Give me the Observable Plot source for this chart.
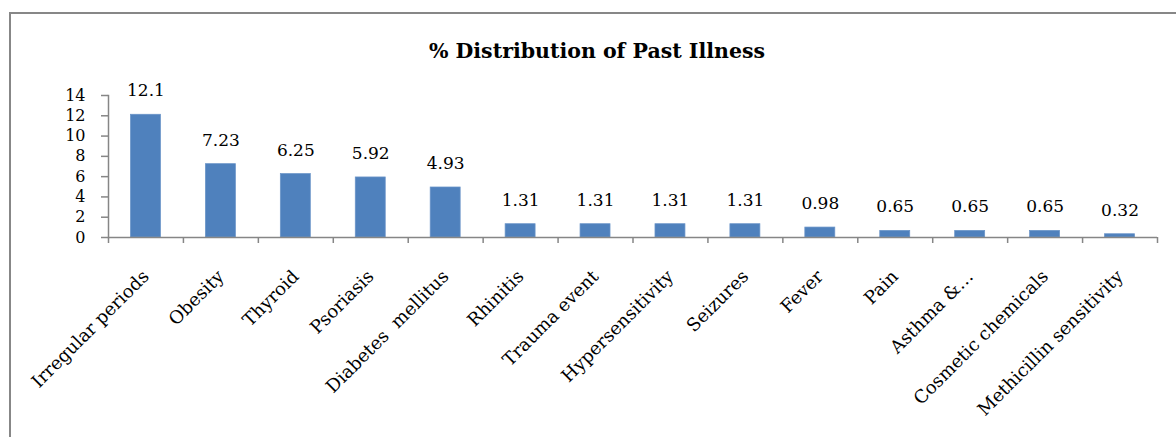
<!DOCTYPE html>
<html>
<head>
<meta charset="utf-8">
<script src="https://cdn.jsdelivr.net/npm/d3@7"></script>
<script src="https://cdn.jsdelivr.net/npm/@observablehq/plot@0.6"></script>
<style>
  body { margin: 0; background: #fff; }
  #chart { position: relative; width: 1176px; height: 437px; overflow: hidden; font-family: "DejaVu Serif", serif; }
  #frame { position: absolute; left: 9px; top: 12px; width: 1220px; height: 520px; border: 2px solid #878787; box-sizing: border-box; }
  #title { position: absolute; left: 0; width: 1194px; top: 39px; text-align: center; font-weight: bold; font-size: 20.5px; color: #000; }
  #chart svg { position: absolute; left: 0; top: 0; }
</style>
</head>
<body>
<div id="chart">
  <div id="frame"></div>
  <div id="title">% Distribution of Past Illness</div>
</div>
<script>
// Past illness categories and their share (%)
const illnesses = [
  "Irregular periods", "Obesity", "Thyroid", "Psoriasis", "Diabetes  mellitus",
  "Rhinitis", "Trauma event", "Hypersensitivity", "Seizures", "Fever",
  "Pain", "Asthma &…", "Cosmetic chemicals", "Methicillin sensitivity"
];
const percents = [12.1, 7.23, 6.25, 5.92, 4.93, 1.31, 1.31, 1.31, 1.31, 0.98, 0.65, 0.65, 0.65, 0.32];
const yTicks = [0, 2, 4, 6, 8, 10, 12, 14];

const rows = illnesses.map((name, i) => ({name, pct: percents[i]}));

const W = 1176, H = 437;
const mL = 108, mR = 19, mT = 95, mB = 200;
const step = (W - mL - mR) / illnesses.length; // width of one category band
const axisGray = "#868686";

const chart = Plot.plot({
  width: W,
  height: H,
  marginLeft: mL,
  marginRight: mR,
  marginTop: mT,
  marginBottom: mB,
  style: {fontFamily: "'DejaVu Serif', serif", fontSize: "16px", color: "#000", background: "transparent", overflow: "visible"},
  x: {domain: illnesses, paddingInner: 0.6, paddingOuter: 0.3, round: false, label: null},
  y: {domain: [0, 14], label: null},
  marks: [
    Plot.barY(rows, {x: "name", y: "pct", fill: "#4F81BD", stroke: "#6A94C8", strokeWidth: 0.75}),
    Plot.text(rows, {x: "name", y: "pct", text: d => String(d.pct), dy: -24, fontSize: 17, fill: "#000"}),
    // axis lines
    Plot.frame({anchor: "left", stroke: axisGray, strokeWidth: 1.5}),
    Plot.ruleY([0], {stroke: axisGray, strokeWidth: 1.5}),
    // y ticks and labels
    Plot.axisY({ticks: yTicks, tickSize: 7, tickPadding: 16, stroke: axisGray, strokeWidth: 1.5, label: null, fontSize: 16}),
    // tick marks on category boundaries
    Plot.axisX({tickSize: 6, tickFormat: () => "", dx: -step / 2, stroke: axisGray, strokeWidth: 1.5, label: null}),
    Plot.axisX({ticks: [illnesses[illnesses.length - 1]], tickSize: 6, tickFormat: () => "", dx: step / 2, stroke: axisGray, strokeWidth: 1.5, label: null}),
    // rotated category labels
    Plot.axisX({tickSize: 0, tickPadding: 36, tickRotate: -45, fontSize: 18, label: null})
  ]
});

document.getElementById("chart").appendChild(chart);
</script>
</body>
</html>
